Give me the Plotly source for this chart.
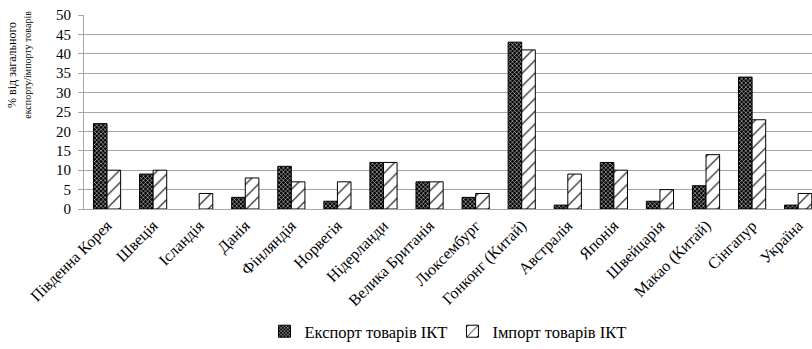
import plotly.graph_objects as go

countries = [
    "Південна Корея", "Швеція", "Ісландія", "Данія", "Фінляндія", "Норвегія",
    "Нідерланди", "Велика Британія", "Люксембург", "Гонконг (Китай)",
    "Австралія", "Японія", "Швейцарія", "Макао (Китай)", "Сінгапур", "Україна",
]
export_ict = [22, 9, 0, 3, 11, 2, 12, 7, 3, 43, 1, 12, 2, 6, 34, 1]
import_ict = [10, 10, 4, 8, 7, 7, 12, 7, 4, 41, 9, 10, 5, 14, 23, 4]
y_ticks = [0, 5, 10, 15, 20, 25, 30, 35, 40, 45, 50]

FONT = "Liberation Serif"


def outline_widths(values):
    # no outline on empty bars
    return [0 if v == 0 else 1 for v in values]


fig = go.Figure()
fig.add_trace(go.Bar(
    x=countries, y=export_ict, name="Експорт товарів ІКТ",
    marker=dict(
        color="black",
        line=dict(color="black", width=outline_widths(export_ict)),
        pattern=dict(shape="x", fgcolor="white", bgcolor="black",
                     size=3, solidity=0.3, fillmode="replace"),
    ),
))
fig.add_trace(go.Bar(
    x=countries, y=import_ict, name="Імпорт товарів ІКТ",
    marker=dict(
        color="white",
        line=dict(color="black", width=outline_widths(import_ict)),
        pattern=dict(shape="/", fgcolor="black", bgcolor="white",
                     size=9, solidity=0.12, fillmode="replace"),
    ),
))

fig.update_layout(
    width=812, height=349,
    margin=dict(l=84, r=0, t=15, b=139),
    paper_bgcolor="white", plot_bgcolor="white",
    barmode="group", bargap=0.41, bargroupgap=0,
    font=dict(family=FONT, size=15, color="black"),
    showlegend=True,
    legend=dict(
        orientation="h", x=0.50, xanchor="center", y=-0.63, yanchor="middle",
        font=dict(family=FONT, size=16.5, color="black"),
        itemwidth=30, traceorder="normal",
    ),
    xaxis=dict(
        type="category", range=[-0.5, 15.3], tickangle=-45,
        showgrid=False, showline=True, linecolor="#a6a6a6", linewidth=1,
        ticks="", tickfont=dict(family=FONT, size=16, color="black"),
    ),
    yaxis=dict(
        range=[0, 50], tickvals=y_ticks, showgrid=True, gridcolor="#a6a6a6",
        gridwidth=1, showline=True, linecolor="#a6a6a6", linewidth=1,
        ticks="outside", ticklen=5, tickcolor="#a6a6a6",
        ticklabelstandoff=4,
        tickfont=dict(family=FONT, size=15, color="black"),
        zeroline=False,
    ),
    annotations=[dict(
        text=("<span style='font-size:12px'>% від загального</span><br>"
              "<span style='font-size:10px'>експорту/імпорту товарів</span>"),
        xref="paper", yref="paper", x=-0.089, y=0.745,
        xanchor="center", yanchor="middle", textangle=-90, showarrow=False,
        font=dict(family=FONT, size=12, color="black"),
    )],
)

fig.write_html("out.html")
